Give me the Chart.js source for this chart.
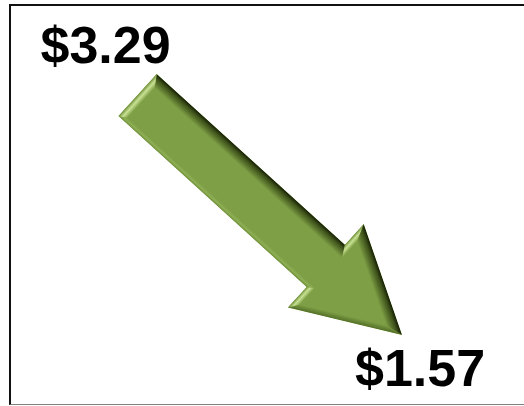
<!DOCTYPE html>
<html>
<head>
<meta charset="utf-8">
<script src="https://cdn.jsdelivr.net/npm/chart.js@4.4.1/dist/chart.umd.min.js"></script>
<style>
  html, body { margin: 0; padding: 0; background: #fff; overflow: hidden; width: 524px; height: 406px; }
  #frame {
    position: absolute; left: 9px; top: 4px; width: 513px; height: 398px;
    border-top: 2px solid #111; border-left: 2px solid #111; border-bottom: 1px solid #808080;
  }
  #chart { position: absolute; left: 0; top: 0; }
</style>
</head>
<body>
<div id="frame"></div>
<canvas id="chart" width="524" height="406"></canvas>
<script>
// data
const periods = ['Before', 'After'];
const prices = [3.29, 1.57];
const priceLabels = prices.map(v => '$' + v.toFixed(2));

// colors
const C = {
  face:  '#7E9F45',
  hi:    '#C9E294',
  hiEdge:'#6F8F3A',
  dark:  '#141B05',
  dark2: '#3C5019',
  mid:   '#546F28',
  light: '#8FAF55',
  text:  '#000000',
};

// ── geometry helpers ─────────────────────────────────
function sub(a, b) { return { x: a.x - b.x, y: a.y - b.y }; }
function add(a, b) { return { x: a.x + b.x, y: a.y + b.y }; }
function mul(a, k) { return { x: a.x * k, y: a.y * k }; }

// inset each edge by its own width, vertices where the offset lines meet
function insetPolygon(pts, widths) {
  let area = 0;
  pts.forEach((p, i) => { const q = pts[(i + 1) % pts.length]; area += p.x * q.y - q.x * p.y; });
  const sgn = area > 0 ? 1 : -1;
  const edges = pts.map((p, i) => {
    const q = pts[(i + 1) % pts.length];
    const d = sub(q, p);
    const len = Math.hypot(d.x, d.y);
    const n = { x: sgn * d.y / len, y: -sgn * d.x / len };
    return { p: add(p, mul(n, -widths[i])), d, n };
  });
  const verts = pts.map((_, i) => {
    const e1 = edges[(i - 1 + pts.length) % pts.length], e2 = edges[i];
    const den = e1.d.x * e2.d.y - e1.d.y * e2.d.x;
    const w = sub(e2.p, e1.p);
    const t = (w.x * e2.d.y - w.y * e2.d.x) / den;
    return add(e1.p, mul(e1.d, t));
  });
  return { verts, normals: edges.map(e => e.n) };
}

// ── 화살표 플러그인 ───────────────────────────────────
const arrowPlugin = {
  id: 'arrow',
  afterDatasetsDraw(chart) {
    const ctx = chart.ctx;
    const pts = chart.getDatasetMeta(0).data;
    const p0 = { x: pts[0].x, y: pts[0].y };
    const p1 = { x: pts[1].x, y: pts[1].y };
    const dv = sub(p1, p0);
    const L = Math.hypot(dv.x, dv.y);
    const u = mul(dv, 1 / L);
    const nL = { x: u.y, y: -u.x };
    const w = 28.5, hw = 56.5, headLen = 103;
    const j = add(p0, mul(u, L - headLen));

    const poly = [
      add(p0, mul(nL, w)),
      add(j, mul(nL, w)),
      add(j, mul(nL, hw)),
      p1,
      add(j, mul(nL, -hw)),
      add(j, mul(nL, -w)),
      add(p0, mul(nL, -w)),
    ];
    // shaft top, barb back, head right, head lower, barb back, shaft bottom, tail
    const styles = ['dark', 'hi', 'dark', 'mid', 'hi', 'light', 'hi'];
    const widths = [12, 7, 12, 6, 7, 5, 8];
    const { verts: inner, normals } = insetPolygon(poly, widths);

    ctx.save();
    ctx.beginPath();
    poly.forEach((p, i) => i ? ctx.lineTo(p.x, p.y) : ctx.moveTo(p.x, p.y));
    ctx.closePath();
    ctx.fillStyle = C.face;
    ctx.fill();
    ctx.clip();

    poly.forEach((a, i) => {
      const k = (i + 1) % poly.length;
      const b = poly[k];
      const ia = inner[i], ib = inner[k];
      const mo = mul(add(a, b), 0.5);
      const mi = add(mo, mul(normals[i], -widths[i]));
      const g = ctx.createLinearGradient(mo.x, mo.y, mi.x, mi.y);
      const s = styles[i];
      if (s === 'hi') {
        g.addColorStop(0, C.hiEdge);
        g.addColorStop(0.45, C.hi);
        g.addColorStop(1, C.face);
      } else if (s === 'dark') {
        g.addColorStop(0, C.dark);
        g.addColorStop(0.3, C.dark2);
        g.addColorStop(1, C.face);
      } else if (s === 'mid') {
        g.addColorStop(0, C.mid);
        g.addColorStop(1, C.face);
      } else {
        g.addColorStop(0, '#708F3B');
        g.addColorStop(0.5, C.light);
        g.addColorStop(1, C.face);
      }
      ctx.beginPath();
      ctx.moveTo(a.x, a.y);
      ctx.lineTo(b.x, b.y);
      ctx.lineTo(ib.x, ib.y);
      ctx.lineTo(ia.x, ia.y);
      ctx.closePath();
      ctx.fillStyle = g;
      ctx.fill();
    });
    ctx.restore();

    // 가격 라벨
    ctx.save();
    ctx.font = "bold 52px 'Liberation Sans', Arial, sans-serif";
    ctx.fillStyle = C.text;
    ctx.textAlign = 'center';
    ctx.textBaseline = 'alphabetic';
    ctx.fillText(priceLabels[0], p0.x - 32, p0.y - 32);
    ctx.fillText(priceLabels[1], p1.x + 18, p1.y + 51);
    ctx.restore();
  }
};

new Chart(document.getElementById('chart'), {
  type: 'scatter',
  data: {
    labels: periods,
    datasets: [{
      label: 'Price',
      data: prices.map((v, i) => ({ x: i, y: v })),
      pointRadius: 0,
      showLine: false,
    }]
  },
  options: {
    responsive: false,
    animation: false,
    layout: { padding: 0 },
    plugins: { legend: { display: false }, tooltip: { enabled: false } },
    scales: {
      x: { type: 'linear', display: false, min: -0.520, max: 1.461 },
      y: { type: 'linear', display: false, min: 1.061, max: 3.971 }
    }
  },
  plugins: [arrowPlugin]
});
</script>
</body>
</html>
